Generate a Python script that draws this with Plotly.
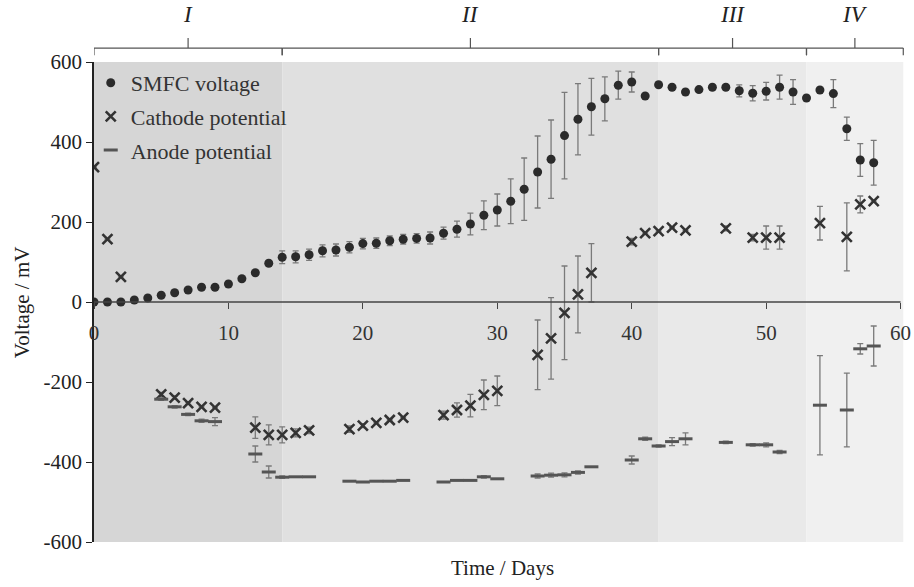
import plotly.graph_objects as go

# ---------------- data ----------------
smfc_days = list(range(0, 59))
smfc_mv = [0, 0, 0, 5, 10, 17, 23, 30, 37, 37, 45, 58, 73, 97, 112, 113, 118, 128, 130, 137,
           146, 147, 153, 157, 159, 160, 172, 182, 195, 217, 230, 252, 282, 325, 357, 416, 457, 488, 508, 542,
           550, 515, 543, 537, 525, 531, 537, 537, 528, 522, 527, 537, 525, 510, 530, 521, 433, 355, 348]
smfc_err = [0, 0, 0, 0, 0, 0, 0, 0, 0, 0, 0, 3, 5, 5, 16, 15, 14, 15, 15, 14,
            13, 13, 12, 12, 12, 15, 15, 20, 27, 36, 40, 56, 78, 90, 98, 108, 89, 71, 55, 35,
            25, 0, 0, 0, 0, 0, 0, 5, 15, 19, 22, 30, 31, 0, 0, 35, 29, 41, 56]

cath_days = [0, 1, 2, 5, 6, 7, 8, 9, 12, 13, 14, 15, 16, 19, 20, 21, 22, 23, 26, 27, 28, 29, 30,
             33, 34, 35, 36, 37, 40, 41, 42, 43, 44, 47, 49, 50, 51, 54, 56, 57, 58]
cath_mv = [337, 157, 63, -231, -239, -253, -262, -264, -314, -332, -332, -327, -321, -318, -309, -302,
           -295, -289, -283, -270, -259, -232, -222, -132, -91, -27, 19, 73, 151, 172, 177, 186, 179,
           184, 161, 161, 161, 197, 163, 244, 252]
cath_err = [0, 0, 0, 5, 4, 3, 0, 0, 27, 25, 20, 10, 8, 8, 5, 0, 0, 0, 10, 18, 28, 37, 37,
            87, 102, 117, 96, 73, 8, 0, 0, 0, 0, 6, 8, 29, 29, 42, 85, 21, 0]

anode_days = [5, 6, 7, 8, 9, 12, 13, 14, 15, 16, 19, 20, 21, 22, 23, 26, 27, 28, 29, 30,
              33, 34, 35, 36, 37, 40, 41, 42, 43, 44, 47, 49, 50, 51, 54, 56, 57, 58]
anode_mv = [-243, -262, -281, -297, -299, -380, -425, -438, -437, -437, -448, -450, -448, -448, -446,
            -450, -446, -446, -437, -442, -435, -433, -432, -426, -412, -395, -342, -360, -349, -342,
            -351, -357, -357, -375, -258, -270, -117, -110]
anode_err = [3, 3, 3, 4, 10, 20, 15, 3, 0, 0, 0, 0, 0, 0, 0, 0, 0, 0, 3, 0,
             5, 5, 5, 4, 0, 10, 4, 3, 10, 15, 3, 3, 5, 4, 124, 92, 13, 50]

phase_labels = ["I", "II", "III", "IV"]
phase_start = [0, 14, 42, 53]
phase_end = [14, 42, 53, 60.2]
phase_colors = ["#d6d6d6", "#e0e0e0", "#e9e9e9", "#f0f0f0"]

y_ticks = [600, 400, 200, 0, -200, -400, -600]
x_ticks = [0, 10, 20, 30, 40, 50, 60]

FONT = "Liberation Serif"
ERR = dict(type="data", visible=True, color="#7a7a7a", thickness=1.3, width=3)

fig = go.Figure()
fig.add_trace(go.Scatter(
    x=smfc_days, y=smfc_mv, mode="markers", name="SMFC voltage", legendgroup="a",
    marker=dict(symbol="circle", size=9, color="#2b2b2b"),
    error_y=dict(array=smfc_err, **ERR)))
fig.add_trace(go.Scatter(
    x=cath_days, y=cath_mv, mode="markers", name="Cathode potential", legendgroup="b",
    marker=dict(symbol="x-thin", size=10, color="#333333", line=dict(width=2.6, color="#333333")),
    error_y=dict(array=cath_err, **ERR)))
fig.add_trace(go.Scatter(
    x=anode_days, y=anode_mv, mode="markers", name="Anode potential", legendgroup="c",
    marker=dict(symbol="line-ew", size=10, color="#555555", line=dict(width=3, color="#555555")),
    error_y=dict(array=anode_err, **ERR)))

shapes = []
annotations = []
for lab, s, e, c in zip(phase_labels, phase_start, phase_end, phase_colors):
    shapes.append(dict(type="rect", xref="x", yref="paper", x0=s, x1=e, y0=0, y1=1,
                       fillcolor=c, line=dict(width=0), layer="below"))
    m = (s + e) / 2
    lc = dict(color="#555555", width=1.2)
    shapes.append(dict(type="line", xref="x", yref="paper", x0=s, x1=e, y0=1.029, y1=1.029, line=lc))
    shapes.append(dict(type="line", xref="x", yref="paper", x0=s, x1=s, y0=1.029, y1=1.014, line=lc))
    shapes.append(dict(type="line", xref="x", yref="paper", x0=e, x1=e, y0=1.029, y1=1.014, line=lc))
    shapes.append(dict(type="line", xref="x", yref="paper", x0=m, x1=m, y0=1.029, y1=1.05, line=lc))
    annotations.append(dict(text="<i>%s</i>" % lab, x=m, y=1.098, xref="x", yref="paper",
                            showarrow=False, font=dict(family=FONT, size=23, color="#222"),
                            xanchor="center", yanchor="middle"))

# x-axis baseline at y = 0, spanning the tick range
shapes.append(dict(type="line", xref="x", yref="y", x0=x_ticks[0], x1=x_ticks[-1], y0=0, y1=0,
                   line=dict(color="#444", width=1.5), layer="above"))

annotations.append(dict(text="Time / Days", x=0.5, xref="paper", y=-0.055, yref="paper",
                        showarrow=False, font=dict(family=FONT, size=21, color="#222"),
                        xanchor="center", yanchor="middle"))
annotations.append(dict(text="Voltage / mV", x=-0.088, xref="paper", y=0.5, yref="paper",
                        showarrow=False, textangle=-90, font=dict(family=FONT, size=21, color="#222"),
                        xanchor="center", yanchor="middle"))

fig.update_layout(
    width=914, height=587,
    margin=dict(l=94, r=4, t=62, b=45),
    paper_bgcolor="white", plot_bgcolor="white",
    font=dict(family=FONT, size=20, color="#222"),
    shapes=shapes, annotations=annotations,
    showlegend=True,
    legend=dict(x=-0.004, y=1.0, xanchor="left", yanchor="top", bgcolor="rgba(0,0,0,0)",
                font=dict(family=FONT, size=22, color="#333"), tracegroupgap=2,
                itemsizing="trace"),
    xaxis=dict(range=[0, 60.7], tickvals=x_ticks, ticktext=[str(v) for v in x_ticks],
               showgrid=False, zeroline=False, showline=False,
               ticks="outside", ticklen=6, tickcolor="#444", anchor="free", position=0.5,
               ticklabelstandoff=6, tickfont=dict(family=FONT, size=21, color="#333")),
    yaxis=dict(range=[-600, 600], tickvals=y_ticks, ticktext=[str(v) for v in y_ticks],
               showgrid=False, zeroline=False, showline=True, linecolor="#222", linewidth=1.5,
               ticks="outside", ticklen=6, tickcolor="#222",
               tickfont=dict(family=FONT, size=21, color="#222")),
)

fig.write_html("out.html")
